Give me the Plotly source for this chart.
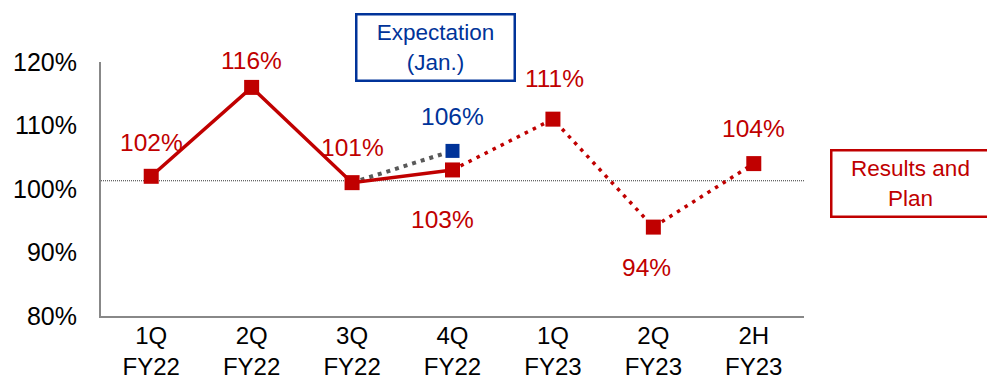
import plotly.graph_objects as go

# Periods and ratios
categories = ["1Q<br>FY22", "2Q<br>FY22", "3Q<br>FY22", "4Q<br>FY22",
              "1Q<br>FY23", "2Q<br>FY23", "2H<br>FY23"]
results_plan = [102, 116, 101, 103, 111, 94, 104]
expectation_jan = [None, None, 101, 106, None, None, None]
reference_level = 101.3
y_ticks = [80, 90, 100, 110, 120]
y_tick_labels = [f"{v}%" for v in y_ticks]

# Index of the last actual result; later points are the plan
last_actual = 3

RED = "#C00000"
BLUE = "#003399"
GREY = "#595959"
FONT = "Liberation Sans, Arial, sans-serif"

fig = go.Figure()

# January expectation: grey dotted link and blue marker
fig.add_trace(go.Scatter(
    x=categories, y=expectation_jan, mode="lines",
    line=dict(color=GREY, width=4, dash="4px,5px"),
    connectgaps=False, hoverinfo="skip", showlegend=False))
exp_idx = [i for i, v in enumerate(expectation_jan) if v is not None][-1]
fig.add_trace(go.Scatter(
    x=[categories[exp_idx]], y=[expectation_jan[exp_idx]], mode="markers",
    marker=dict(symbol="square", size=14, color=BLUE),
    showlegend=False))

# Results (solid) and plan (dotted)
fig.add_trace(go.Scatter(
    x=categories[last_actual:], y=results_plan[last_actual:], mode="lines",
    line=dict(color=RED, width=3.5, dash="3.5px,5.5px"),
    showlegend=False))
fig.add_trace(go.Scatter(
    x=categories[:last_actual + 1], y=results_plan[:last_actual + 1], mode="lines",
    line=dict(color=RED, width=3.5), showlegend=False))
fig.add_trace(go.Scatter(
    x=categories, y=results_plan, mode="markers",
    marker=dict(symbol="square", size=15, color=RED), showlegend=False))

# Value labels (pixel offsets from each marker)
label_dx = [0, 0, 0, -10, 2, -7, 0]
label_dy = [34, 27, 35, -50, 41, -40, 35]
annotations = []
for i, v in enumerate(results_plan):
    annotations.append(dict(
        x=categories[i], y=v, xref="x", yref="y", text=f"{v}%",
        showarrow=False, xshift=label_dx[i], yshift=label_dy[i],
        xanchor="center", yanchor="middle",
        font=dict(family=FONT, size=24.5, color=RED)))
annotations.append(dict(
    x=categories[exp_idx], y=expectation_jan[exp_idx], xref="x", yref="y",
    text=f"{expectation_jan[exp_idx]}%", showarrow=False, yshift=34,
    xanchor="center", yanchor="middle",
    font=dict(family=FONT, size=24.5, color=BLUE)))

# Legend boxes
annotations.append(dict(
    x=0.4765, y=1.059, xref="paper", yref="paper",
    xanchor="center", yanchor="middle",
    text="Expectation<br>(Jan.)", showarrow=False, align="center",
    width=152, height=60, borderpad=2, borderwidth=2.5, bordercolor=BLUE,
    bgcolor="white", font=dict(family=FONT, size=22.5, color=BLUE)))
annotations.append(dict(
    x=1.1508, y=0.5236, xref="paper", yref="paper",
    xanchor="center", yanchor="middle",
    text="Results and<br>Plan", showarrow=False, align="center",
    width=152, height=60, borderpad=2, borderwidth=2.5, bordercolor=RED,
    bgcolor="white", font=dict(family=FONT, size=22.5, color=RED)))

fig.update_layout(
    width=987, height=377,
    margin=dict(l=101, r=183, t=62, b=61),
    paper_bgcolor="white", plot_bgcolor="white",
    font=dict(family=FONT, size=24, color="black"),
    annotations=annotations,
    shapes=[dict(type="line", xref="paper", yref="y", x0=0, x1=1,
                 y0=reference_level, y1=reference_level,
                 line=dict(color="#333333", width=1, dash="1px,1px"),
                 layer="below")],
)
fig.update_xaxes(
    type="category", range=[-0.5, len(categories) - 0.5], automargin=False,
    showline=True, linecolor="#888888", linewidth=2, showgrid=False,
    ticks="", tickfont=dict(size=24), ticklabelstandoff=-3)
fig.update_yaxes(
    range=[80, 120], tickvals=y_ticks, ticktext=y_tick_labels, automargin=False,
    showline=True, linecolor="#888888", linewidth=2, showgrid=False,
    zeroline=False, ticks="", tickfont=dict(size=25), ticklabelstandoff=17)

fig.write_html("out.html")
